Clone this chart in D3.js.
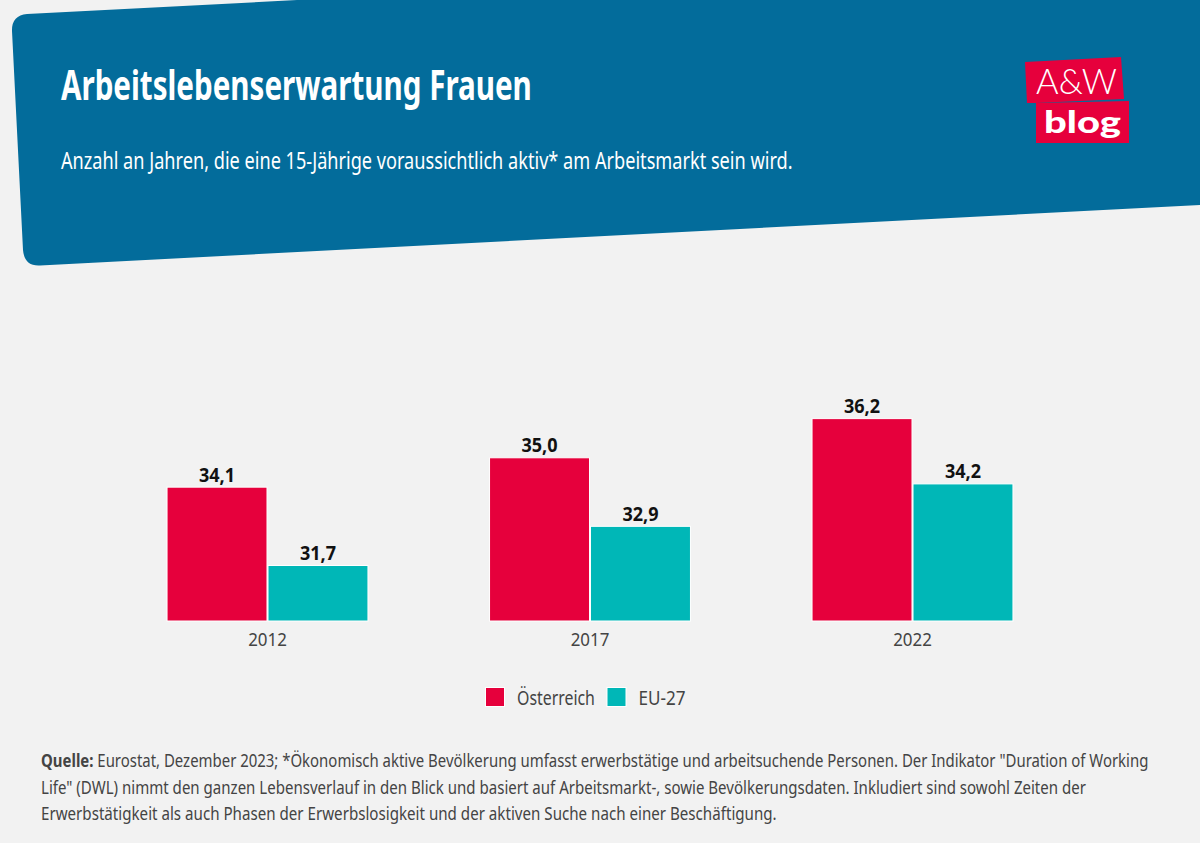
<!DOCTYPE html>
<html lang="de">
<head>
<meta charset="utf-8">
<title>Arbeitslebenserwartung Frauen</title>
<script src="https://cdn.jsdelivr.net/npm/d3@7"></script>
<style>
  html, body { margin: 0; padding: 0; background: #f2f2f2; }
  svg { display: block; font-family: "Noto Sans", sans-serif; }
</style>
</head>
<body>
<div id="chart"></div>
<script>
const years = ['2012', '2017', '2022'];
const seriesNames = ['Österreich', 'EU-27'];
const oesterreich = [34.1, 35.0, 36.2];
const eu27 = [31.7, 32.9, 34.2];
const yDomain = [30, 37];

const titleText = 'Arbeitslebenserwartung Frauen';
const subtitleText = 'Anzahl an Jahren, die eine 15-Jährige voraussichtlich aktiv* am Arbeitsmarkt sein wird.';
const sourceLines = [
    'Eurostat, Dezember 2023; *Ökonomisch aktive Bevölkerung umfasst erwerbstätige und arbeitsuchende Personen. Der Indikator "Duration of Working',
    'Life" (DWL) nimmt den ganzen Lebensverlauf in den Blick und basiert auf Arbeitsmarkt-, sowie Bevölkerungsdaten. Inkludiert sind sowohl Zeiten der',
    'Erwerbstätigkeit als auch Phasen der Erwerbslosigkeit und der aktiven Suche nach einer Beschäftigung.'
];

const width = 1200;
const height = 843;
const blue = '#036c9b';
const red = '#e6003c';
const teal = '#00b7b7';
const colors = [red, teal];
const values = [oesterreich, eu27];

const svg = d3.select('#chart').append('svg')
    .attr('width', width)
    .attr('height', height);

svg.append('rect').attr('width', width).attr('height', height).attr('fill', '#f2f2f2');

// Squeeze the text horizontally, PT Sans is not available here
function fitText(sel, x, y, targetWidth) {
    const k = targetWidth / sel.node().getComputedTextLength();
    sel.attr('transform', `translate(${x},${y}) scale(${k},1)`);
    return sel;
}

// Header banner
svg.append('path')
    .attr('d', 'M 12 31 Q 11.5 15.5 27 14 L 297 0 L 1200 0 L 1200 205 L 40 265.5 Q 24.5 266.5 23 250 Z')
    .attr('fill', blue);

fitText(svg.append('text').text(titleText)
    .attr('fill', '#fff').attr('font-size', 42).attr('font-weight', 700), 61, 100, 471);

fitText(svg.append('text').text(subtitleText)
    .attr('fill', '#fff').attr('font-size', 23.5), 61, 169, 732);

// Logo
const logo = svg.append('g').style('font-family', 'Lato, sans-serif');
logo.append('path').attr('d', 'M 1025 62 L 1121 57 L 1124 99 L 1036 103 L 1027 103 Z').attr('fill', red);
logo.append('path').attr('d', 'M 1036 103 L 1129 101 L 1129 143 L 1036 143 Z').attr('fill', red);
fitText(logo.append('text').text('A&W').attr('fill', '#fff')
    .attr('font-size', 36).attr('font-weight', 300), 1036, 94, 81);
fitText(logo.append('text').text('blog').attr('fill', '#fff')
    .attr('font-size', 31).attr('font-weight', 900), 1044, 132.5, 77);

// Scales
const x0 = d3.scaleBand()
    .domain(years)
    .range([106.25, 1073.75])
    .paddingInner(0.377)
    .paddingOuter(0.1885);

const x1 = d3.scaleBand()
    .domain(seriesNames)
    .range([0, x0.bandwidth()])
    .paddingInner(0.01);

const y = d3.scaleLinear()
    .domain(yDomain)
    .range([621, 392.5]);

// Bars
const groups = svg.selectAll('g.year')
    .data(years)
    .join('g')
    .attr('class', 'year')
    .attr('transform', d => `translate(${x0(d)},0)`);

seriesNames.forEach((name, s) => {
    groups.append('rect')
        .attr('x', x1(name))
        .attr('y', (d, i) => y(values[s][i]))
        .attr('width', x1.bandwidth())
        .attr('height', (d, i) => y(yDomain[0]) - y(values[s][i]))
        .attr('fill', colors[s])
        .attr('stroke', '#fff')
        .attr('stroke-width', 1);

    groups.append('text')
        .attr('class', 'value')
        .attr('text-anchor', 'middle')
        .attr('font-size', 19)
        .attr('font-weight', 700)
        .attr('fill', '#111')
        .text((d, i) => values[s][i].toFixed(1).replace('.', ','))
        .attr('transform', (d, i) => `translate(${x1(name) + x1.bandwidth() / 2},${y(values[s][i]) - 5.5}) scale(0.95,1)`);
});

// Year axis, no line or ticks in the original
const axis = svg.append('g')
    .attr('transform', `translate(0,${y(yDomain[0])})`)
    .call(d3.axisBottom(x0).tickSize(0).tickPadding(12.7));
axis.select('.domain').remove();
axis.selectAll('text')
    .attr('font-size', 18)
    .attr('font-family', '"Noto Sans", sans-serif')
    .attr('fill', '#444')
    .attr('transform', 'scale(0.94,1)');

// Legend
const legendX = [485.5, 607];
const legend = svg.selectAll('g.legend')
    .data(seriesNames)
    .join('g')
    .attr('class', 'legend')
    .attr('transform', (d, i) => `translate(${legendX[i]},687.5)`);
legend.append('rect')
    .attr('width', 19)
    .attr('height', 19)
    .attr('fill', (d, i) => colors[i])
    .attr('stroke', '#fff')
    .attr('stroke-width', 1);
legend.append('text')
    .text(d => d)
    .attr('font-size', 19.5)
    .attr('fill', '#444')
    .each(function (d, i) {
        fitText(d3.select(this), 31.5, 17, [78, 47][i]);
    });

// Source note
const sourceWidths = [1108, 1046, 736];
const sourceY = [767, 794, 820];
sourceLines.forEach((line, i) => {
    const t = svg.append('text').attr('font-size', 18).attr('fill', '#444');
    if (i === 0) {
        t.append('tspan').attr('font-weight', 700).text('Quelle: ');
    }
    t.append('tspan').text(line);
    fitText(t, 41, sourceY[i], sourceWidths[i]);
});
</script>
</body>
</html>
